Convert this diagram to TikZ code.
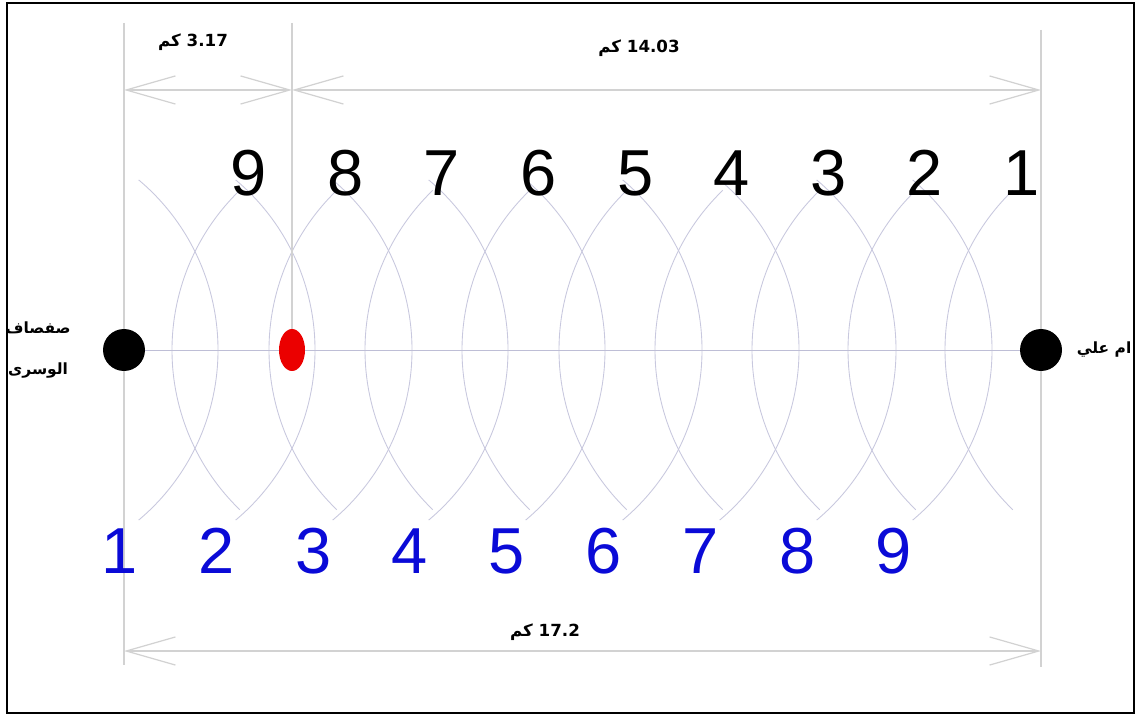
\documentclass[tikz,border=0pt]{standalone}
\usepackage{fontspec}
\setmainfont{Liberation Sans}
\newfontfamily\arabicfont[Script=Arabic]{DejaVu Sans}
\TeXXeTstate=1
\usepackage{tikz}
\usetikzlibrary{shapes.geometric, arrows.meta, positioning}
\definecolor{arcgray}{RGB}{200,200,222}
\definecolor{axisgray}{RGB}{190,190,214}
\definecolor{dimgray}{RGB}{210,210,210}
\definecolor{numblue}{RGB}{10,10,215}
\definecolor{hitred}{RGB}{235,0,0}

\begin{document}
\begin{tikzpicture}[
  x=0.02cm, y=0.02cm,
  station/.style={circle, fill=black, minimum size=0.84cm, inner sep=0pt},
  target/.style={ellipse, fill=hitred, minimum width=0.52cm, minimum height=0.84cm, inner sep=0pt},
  topnum/.style={inner sep=0pt, font=\fontsize{37}{40}\selectfont},
  botnum/.style={topnum, text=numblue},
  dimlabel/.style={inner sep=0pt, font=\arabicfont\bfseries\fontsize{9.5}{11}\selectfont},
  stnlabel/.style={inner sep=0pt, align=center, font=\arabicfont\bfseries\fontsize{8.8}{23}\selectfont},
  arcline/.style={draw=arcgray, line width=0.5pt},
  axisline/.style={draw=axisgray, line width=0.5pt},
  extline/.style={draw=dimgray, line width=0.7pt},
  darrow/.style={
    {Straight Barb[length=28pt,width=16pt]}-{Straight Barb[length=28pt,width=16pt]},
    draw=dimgray, line width=0.7pt
  }
]

% ── Frame ──
\useasboundingbox (0,0) rectangle (1141,-722);
\draw[line width=1.2pt] (7,-3) rectangle (1134,-713);

% ── Arcs: black side ──
\draw[arcline] (1167,-350) ++(134:222) arc[start angle=134, end angle=226, radius=222];
\draw[arcline] (1070,-350) ++(134:222) arc[start angle=134, end angle=226, radius=222];
\draw[arcline] (974,-350) ++(134:222) arc[start angle=134, end angle=226, radius=222];
\draw[arcline] (877,-350) ++(134:222) arc[start angle=134, end angle=226, radius=222];
\draw[arcline] (781,-350) ++(134:222) arc[start angle=134, end angle=226, radius=222];
\draw[arcline] (684,-350) ++(134:222) arc[start angle=134, end angle=226, radius=222];
\draw[arcline] (587,-350) ++(134:222) arc[start angle=134, end angle=226, radius=222];
\draw[arcline] (491,-350) ++(134:222) arc[start angle=134, end angle=226, radius=222];
\draw[arcline] (394,-350) ++(134:222) arc[start angle=134, end angle=226, radius=222];

% ── Arcs: blue side ──
\draw[arcline] (-4,-350) ++(-50:222) arc[start angle=-50, end angle=50, radius=222];
\draw[arcline] (93,-350) ++(-50:222) arc[start angle=-50, end angle=50, radius=222];
\draw[arcline] (190,-350) ++(-50:222) arc[start angle=-50, end angle=50, radius=222];
\draw[arcline] (286,-350) ++(-50:222) arc[start angle=-50, end angle=50, radius=222];
\draw[arcline] (383,-350) ++(-50:222) arc[start angle=-50, end angle=50, radius=222];
\draw[arcline] (480,-350) ++(-50:222) arc[start angle=-50, end angle=50, radius=222];
\draw[arcline] (577,-350) ++(-50:222) arc[start angle=-50, end angle=50, radius=222];
\draw[arcline] (674,-350) ++(-50:222) arc[start angle=-50, end angle=50, radius=222];
\draw[arcline] (770,-350) ++(-50:222) arc[start angle=-50, end angle=50, radius=222];

% ── Dimension points ──
\coordinate (topL) at (124,-90);
\coordinate (topM) at (292,-90);
\coordinate (topR) at (1041,-90);
\coordinate (botL) at (124,-651);
\coordinate (botR) at (1041,-651);
\coordinate (extLtop) at (124,-23);
\coordinate (extLbot) at (124,-665);
\coordinate (extMtop) at (292,-23);
\coordinate (extRtop) at (1041,-30);
\coordinate (extRbot) at (1041,-667);

% ── Stations ──
\node[station] (safsaf) at (124,-350) {};
\node[station] (umali) at (1041,-350) {};
\node[target] (hit) at (292,-350) {};

% ── Extension lines ──
\draw[extline] (extLtop) -- (safsaf);
\draw[extline] (safsaf) -- (extLbot);
\draw[extline] (extMtop) -- (hit);
\draw[extline] (extRtop) -- (umali);
\draw[extline] (umali) -- (extRbot);

% ── Base line ──
\draw[axisline] (safsaf) -- (hit);
\draw[axisline] (hit) -- (umali);

% ── Dimensions ──
\draw[darrow] (topL) -- (topM);
\draw[darrow] (topM) -- (topR);
\draw[darrow] (botL) -- (botR);
\node[dimlabel] (lenA) at (193,-42) {\beginR\beginL 3.17\endL{} كم\endR};
\node[dimlabel] (lenB) at (639,-48) {\beginR\beginL 14.03\endL{} كم\endR};
\node[dimlabel] (lenC) at (545,-632) {\beginR\beginL 17.2\endL{} كم\endR};

% ── Station names ──
\node[stnlabel, left=18pt of safsaf] (safsaflbl) {\beginR صفصاف\endR\\\beginR الوسرى\endR};
\node[stnlabel, right=8pt of umali] (umalilbl) {\beginR ام علي\endR};

% ── Numbers: top (black) ──
\node[topnum] (t1) at (1022,-173) {1};
\node[topnum] (t2) at (925,-173) {2};
\node[topnum] (t3) at (829,-173) {3};
\node[topnum] (t4) at (732,-173) {4};
\node[topnum] (t5) at (636,-173) {5};
\node[topnum] (t6) at (539,-173) {6};
\node[topnum] (t7) at (442,-173) {7};
\node[topnum] (t8) at (346,-173) {8};
\node[topnum] (t9) at (249,-173) {9};

% ── Numbers: bottom (blue) ──
\node[botnum] (b1) at (120,-551) {1};
\node[botnum] (b2) at (217,-551) {2};
\node[botnum] (b3) at (314,-551) {3};
\node[botnum] (b4) at (410,-551) {4};
\node[botnum] (b5) at (507,-551) {5};
\node[botnum] (b6) at (604,-551) {6};
\node[botnum] (b7) at (701,-551) {7};
\node[botnum] (b8) at (798,-551) {8};
\node[botnum] (b9) at (894,-551) {9};

\end{tikzpicture}
\end{document}
